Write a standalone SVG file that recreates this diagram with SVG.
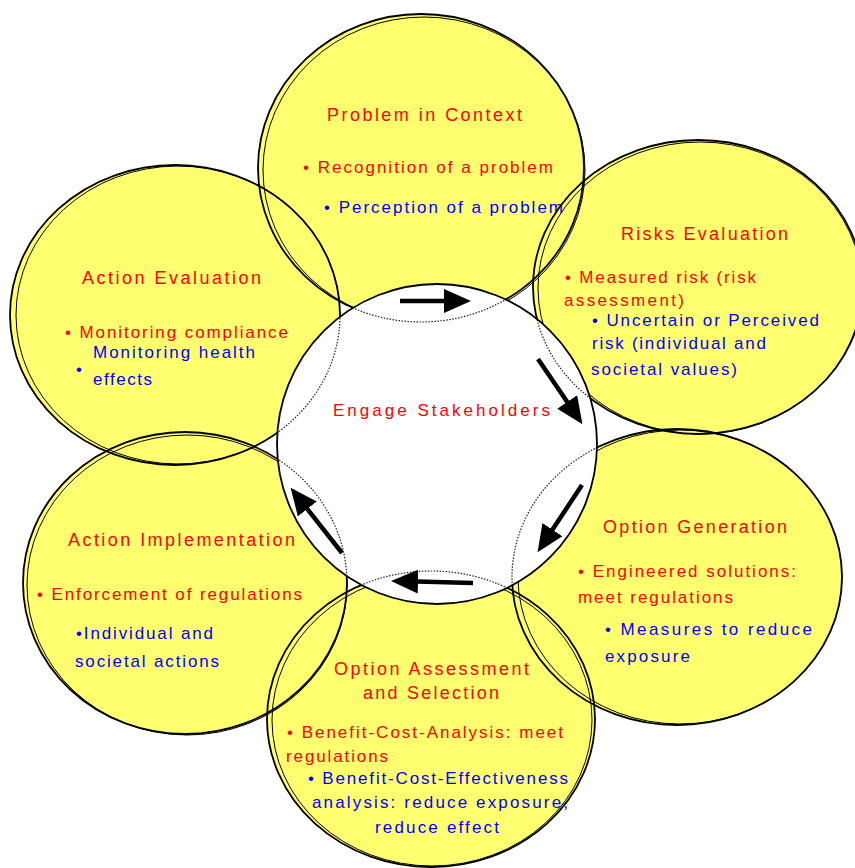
<svg xmlns="http://www.w3.org/2000/svg" xmlns:xlink="http://www.w3.org/1999/xlink" width="855" height="868" viewBox="0 0 855 868">
<style>
.fill{fill:#FFFF70;stroke:none}
.ol{fill:none;stroke:#000;stroke-width:1.8}
.ol2{fill:none;stroke:#000;stroke-width:1}
.dot{fill:none;stroke:#222;stroke-width:1.2;stroke-dasharray:1.5 1.5}
text{font-family:"Liberation Sans",Arial,sans-serif;font-size:17px}
.t{font-size:18px}
.r{fill:#FF0000}
.b{fill:#0000FF}
.arrow{stroke:#000;stroke-width:4.5;fill:none;marker-end:url(#ah)}
</style>
<defs>
<marker id="ah" markerUnits="userSpaceOnUse" viewBox="0 -12 28 24" refX="1" refY="0" markerWidth="28" markerHeight="24" orient="auto">
<path d="M0,-12 L27,0 L0,12 Z" fill="#000"/>
</marker>
<ellipse id="e1" cx="421" cy="168" rx="163" ry="154"/>
<ellipse id="e1b" cx="424" cy="170" rx="161" ry="153"/>
<ellipse id="e2" cx="698" cy="287" rx="165" ry="147"/>
<ellipse id="e2b" cx="700" cy="288" rx="162" ry="146"/>
<ellipse id="e3" cx="677" cy="577" rx="165" ry="148"/>
<ellipse id="e3b" cx="680" cy="577" rx="162" ry="147"/>
<ellipse id="e4" cx="431" cy="719" rx="164" ry="148"/>
<ellipse id="e4b" cx="432" cy="720" rx="160" ry="146"/>
<ellipse id="e5" cx="185" cy="583" rx="162" ry="151"/>
<ellipse id="e5b" cx="187" cy="585" rx="160" ry="150"/>
<ellipse id="e6" cx="175" cy="315" rx="165" ry="150"/>
<ellipse id="e6b" cx="178" cy="315" rx="162" ry="149"/>
<mask id="outside" maskUnits="userSpaceOnUse" x="0" y="0" width="855" height="868">
<rect x="0" y="0" width="855" height="868" fill="#fff"/>
<circle cx="437" cy="444" r="160" fill="#000"/>
</mask>
<clipPath id="inside"><circle cx="437" cy="444" r="160"/></clipPath>
</defs>
<rect x="0" y="0" width="855" height="868" fill="#fff"/>
<g id="fills">
<use xlink:href="#e1" class="fill"/>
<use xlink:href="#e2" class="fill"/>
<use xlink:href="#e3" class="fill"/>
<use xlink:href="#e4" class="fill"/>
<use xlink:href="#e5" class="fill"/>
<use xlink:href="#e6" class="fill"/>
</g>
<g id="engage-stakeholders">
<circle cx="437" cy="444" r="160" fill="#fff" stroke="#000" stroke-width="1.8"/>
<text class="r" x="333" y="416" textLength="217" lengthAdjust="spacing">Engage Stakeholders</text>
</g>
<g id="problem-in-context">
<g mask="url(#outside)"><use xlink:href="#e1" class="ol"/><use xlink:href="#e1b" class="ol2"/></g>
<g clip-path="url(#inside)"><use xlink:href="#e1" class="dot"/></g>
<text class="r t" x="327" y="121" textLength="195" lengthAdjust="spacing">Problem in Context</text>
<text class="r" x="303" y="173" textLength="250" lengthAdjust="spacing">• Recognition of a problem</text>
<text class="b" x="324" y="213" textLength="239" lengthAdjust="spacing">• Perception of a problem</text>
</g>
<g id="risks-evaluation">
<g mask="url(#outside)"><use xlink:href="#e2" class="ol"/><use xlink:href="#e2b" class="ol2"/></g>
<g clip-path="url(#inside)"><use xlink:href="#e2" class="dot"/></g>
<text class="r t" x="621" y="240" textLength="167" lengthAdjust="spacing">Risks Evaluation</text>
<text class="r" x="565" y="283" textLength="191" lengthAdjust="spacing">• Measured risk (risk</text>
<text class="r" x="564" y="306" textLength="120" lengthAdjust="spacing">assessment)</text>
<text class="b" x="592" y="326" textLength="227" lengthAdjust="spacing">• Uncertain or Perceived</text>
<text class="b" x="592" y="349" textLength="174" lengthAdjust="spacing">risk (individual and</text>
<text class="b" x="591" y="375" textLength="146" lengthAdjust="spacing">societal values)</text>
</g>
<g id="option-generation">
<g mask="url(#outside)"><use xlink:href="#e3" class="ol"/><use xlink:href="#e3b" class="ol2"/></g>
<g clip-path="url(#inside)"><use xlink:href="#e3" class="dot"/></g>
<text class="r t" x="603" y="533" textLength="184" lengthAdjust="spacing">Option Generation</text>
<text class="r" x="578" y="577" textLength="218" lengthAdjust="spacing">• Engineered solutions:</text>
<text class="r" x="578" y="603" textLength="155" lengthAdjust="spacing">meet regulations</text>
<text class="b" x="605" y="635" textLength="207" lengthAdjust="spacing">• Measures to reduce</text>
<text class="b" x="605" y="662" textLength="85" lengthAdjust="spacing">exposure</text>
</g>
<g id="option-assessment">
<g mask="url(#outside)"><use xlink:href="#e4" class="ol"/><use xlink:href="#e4b" class="ol2"/></g>
<g clip-path="url(#inside)"><use xlink:href="#e4" class="dot"/></g>
<text class="r t" x="334" y="675" textLength="195" lengthAdjust="spacing">Option Assessment</text>
<text class="r t" x="363" y="699" textLength="136" lengthAdjust="spacing">and Selection</text>
<text class="r" x="287" y="738" textLength="276" lengthAdjust="spacing">• Benefit-Cost-Analysis: meet</text>
<text class="r" x="286" y="762" textLength="102" lengthAdjust="spacing">regulations</text>
<text class="b" x="308" y="784" textLength="260" lengthAdjust="spacing">• Benefit-Cost-Effectiveness</text>
<text class="b" x="312" y="808" textLength="256" lengthAdjust="spacing">analysis: reduce exposure,</text>
<text class="b" x="375" y="833" textLength="124" lengthAdjust="spacing">reduce effect</text>
</g>
<g id="action-implementation">
<g mask="url(#outside)"><use xlink:href="#e5" class="ol"/><use xlink:href="#e5b" class="ol2"/></g>
<g clip-path="url(#inside)"><use xlink:href="#e5" class="dot"/></g>
<text class="r t" x="68" y="546" textLength="227" lengthAdjust="spacing">Action Implementation</text>
<text class="r" x="37" y="600" textLength="265" lengthAdjust="spacing">• Enforcement of regulations</text>
<text class="b" x="76" y="639" textLength="137" lengthAdjust="spacing">•Individual and</text>
<text class="b" x="75" y="667" textLength="144" lengthAdjust="spacing">societal actions</text>
</g>
<g id="action-evaluation">
<g mask="url(#outside)"><use xlink:href="#e6" class="ol"/><use xlink:href="#e6b" class="ol2"/></g>
<g clip-path="url(#inside)"><use xlink:href="#e6" class="dot"/></g>
<text class="r t" x="82" y="284" textLength="179" lengthAdjust="spacing">Action Evaluation</text>
<text class="r" x="65" y="338" textLength="223" lengthAdjust="spacing">• Monitoring compliance</text>
<text class="b" x="93" y="358" textLength="162" lengthAdjust="spacing">Monitoring health</text>
<text class="b" x="76" y="375">•</text>
<text class="b" x="93" y="385" textLength="59" lengthAdjust="spacing">effects</text>
</g>
<g id="connectors">
<line class="arrow" x1="400" y1="301" x2="445" y2="301"/>
<line class="arrow" x1="538" y1="359" x2="567.8" y2="402.7"/>
<line class="arrow" x1="582" y1="485" x2="551.9" y2="530.5"/>
<line class="arrow" x1="473" y1="583" x2="417" y2="581.6"/>
<line class="arrow" x1="342" y1="553" x2="306.7" y2="508.2"/>
</g>
</svg>
